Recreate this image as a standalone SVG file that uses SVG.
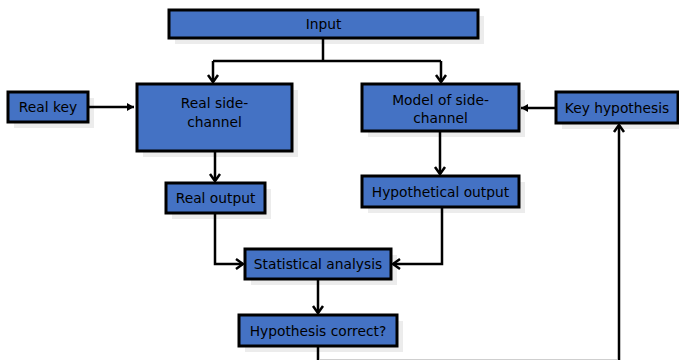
<svg xmlns="http://www.w3.org/2000/svg" width="679" height="360" viewBox="0 0 679 360">
<defs>
<style>
.box{fill:#4472C4;stroke:#000;stroke-width:3}
.sh{fill:#ececec}
.t{font-family:"DejaVu Sans",Verdana,sans-serif;font-size:13.8px;fill:#000;text-anchor:middle}
.c{fill:none;stroke:#000;stroke-width:2.5}
</style>
<marker id="a" markerUnits="userSpaceOnUse" markerWidth="16" markerHeight="16" viewBox="-10 -8 12 16" refX="0" refY="0" orient="auto">
<path d="M-7,-5 L0,0 L-7,5" fill="none" stroke="#000" stroke-width="2.5"/>
</marker>
<marker id="f" markerUnits="userSpaceOnUse" markerWidth="12" markerHeight="12" viewBox="-8 -6 10 12" refX="0" refY="0" orient="auto">
<path d="M-7,-4 L0,0 L-7,4 Z" fill="#000"/>
</marker>
</defs>
<rect x="0" y="0" width="679" height="360" fill="#fff"/>
<line x1="320" y1="359.5" x2="617" y2="359.5" stroke="#cfcfcf" stroke-width="1"/>
<g id="input"><rect class="sh" x="175" y="16" width="309" height="28"/><rect class="box" x="169" y="10" width="309" height="28"/><text class="t" x="323.5" y="29">Input</text></g>
<g id="realkey"><rect class="sh" x="14" y="98" width="80" height="30"/><rect class="box" x="8" y="92" width="80" height="30"/><text class="t" x="48" y="112">Real key</text></g>
<g id="realside"><rect class="sh" x="143" y="90" width="155" height="67"/><rect class="box" x="137" y="84" width="155" height="67"/><text class="t" x="214.5" y="108">Real side-</text><text class="t" x="214.5" y="127">channel</text></g>
<g id="model"><rect class="sh" x="368" y="90" width="157" height="47"/><rect class="box" x="362" y="84" width="157" height="47"/><text class="t" x="440.5" y="105">Model of side-</text><text class="t" x="440.5" y="123">channel</text></g>
<g id="keyhyp"><rect class="sh" x="562" y="98" width="122" height="31"/><rect class="box" x="556" y="92" width="122" height="31"/><text class="t" x="617" y="113">Key hypothesis</text></g>
<g id="realout"><rect class="sh" x="172" y="189" width="99" height="30"/><rect class="box" x="166" y="183" width="99" height="30"/><text class="t" x="215.5" y="203">Real output</text></g>
<g id="hypout"><rect class="sh" x="368" y="182" width="157" height="31"/><rect class="box" x="362" y="176" width="157" height="31"/><text class="t" x="440.5" y="197">Hypothetical output</text></g>
<g id="stat"><rect class="sh" x="251" y="255" width="146" height="30"/><rect class="box" x="245" y="249" width="146" height="30"/><text class="t" x="318" y="269">Statistical analysis</text></g>
<g id="hypcorrect"><rect class="sh" x="245" y="321" width="158" height="31"/><rect class="box" x="239" y="315" width="158" height="31"/><text class="t" x="318" y="336">Hypothesis correct?</text></g>
<g id="connectors">
<path class="c" d="M323,38 V61"/>
<path class="c" d="M213,61 H441"/>
<path class="c" d="M213,61 V82" marker-end="url(#a)"/>
<path class="c" d="M441,61 V82" marker-end="url(#a)"/>
<path class="c" d="M88,107 H134" marker-end="url(#f)"/>
<path class="c" d="M215,151 V181" marker-end="url(#a)"/>
<path class="c" d="M440,131 V174" marker-end="url(#a)"/>
<path class="c" d="M556,108 H521" marker-end="url(#f)"/>
<path class="c" d="M215,213 V264 H243" marker-end="url(#a)"/>
<path class="c" d="M442,207 V264 H393" marker-end="url(#a)"/>
<path class="c" d="M318,279 V313" marker-end="url(#a)"/>
<path class="c" d="M318,346 V364 H619 V125" marker-end="url(#a)"/>
</g>
</svg>
